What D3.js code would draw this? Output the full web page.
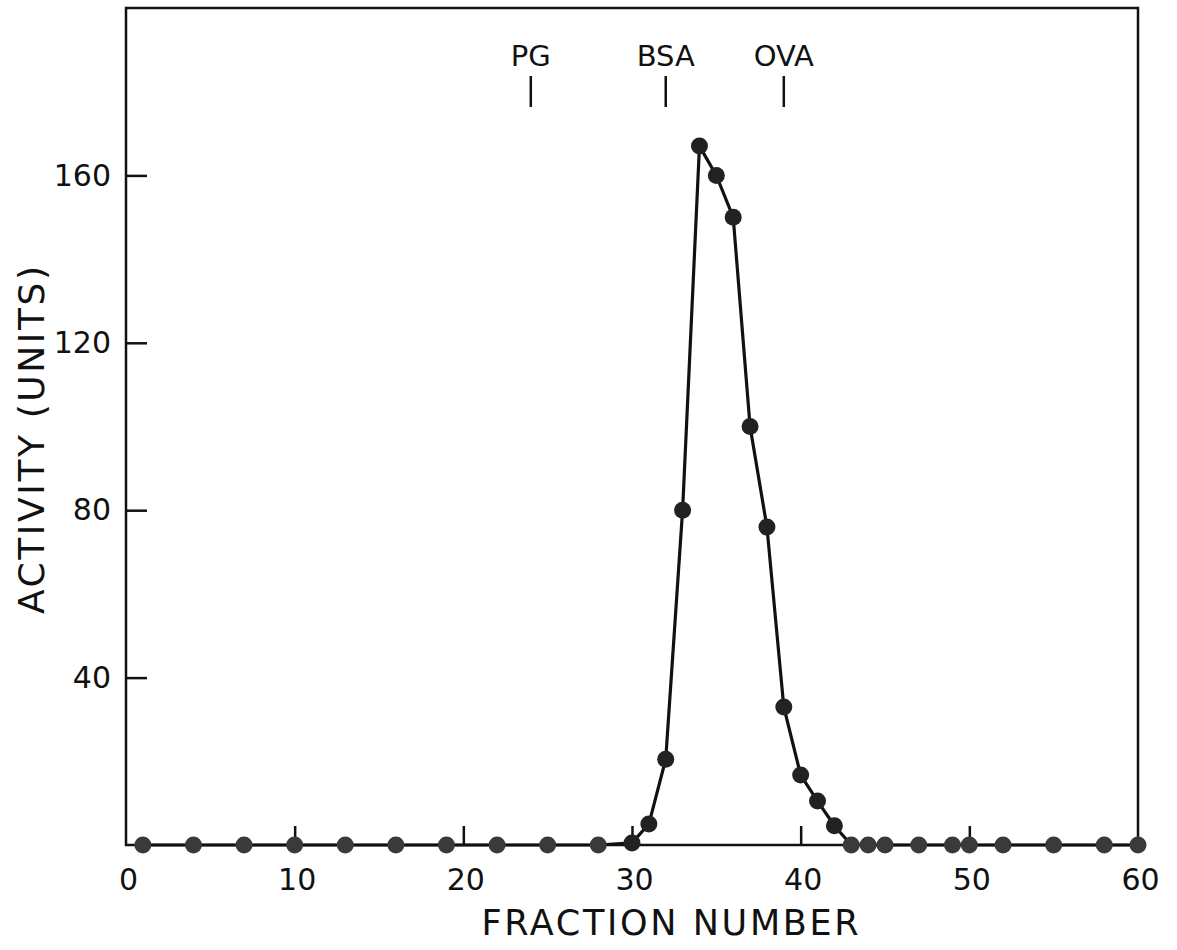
<!DOCTYPE html>
<html>
<head>
<meta charset="utf-8">
<script src="https://cdn.jsdelivr.net/npm/d3@7"></script>
<style>
  body { margin: 0; background: #fff; }
  svg text { font-family: "DejaVu Sans", sans-serif; fill: #111; }
</style>
</head>
<body>
<div id="chart"></div>
<script>
// Fraction numbers and measured activity (units)
const fractions = [1, 4, 7, 10, 13, 16, 19, 22, 25, 28, 30, 31, 32, 33, 34, 35, 36, 37, 38, 39, 40, 41, 42, 43, 44, 45, 47, 49, 50, 52, 55, 58, 60];
const activity = [0, 0, 0, 0, 0, 0, 0, 0, 0, 0, 0.5, 5, 20.5, 80, 167, 160, 150, 100, 76, 33, 16.7, 10.5, 4.6, 0, 0, 0, 0, 0, 0, 0, 0, 0, 0];

// Axis ticks
const xTickMarks = [10, 20, 30, 40, 50];
const xTickLabels = [0, 10, 20, 30, 40, 50, 60];
const yTicks = [40, 80, 120, 160];

// Marker proteins above the peak
const markerNames = ["PG", "BSA", "OVA"];
const markerFractions = [24, 32, 39];

const width = 1177, height = 950;
const margin = { top: 8, right: 40, bottom: 105, left: 126 };

const svg = d3.select("#chart")
  .append("svg")
  .attr("width", width)
  .attr("height", height);

const x = d3.scaleLinear().domain([0, 60]).range([margin.left, 1138]);
const y = d3.scaleLinear().domain([0, 200]).range([845, margin.top]);

const data = fractions.map((f, i) => ({ f: f, v: activity[i] }));

// Frame
svg.append("rect")
  .attr("x", x(0))
  .attr("y", y(200))
  .attr("width", x(60) - x(0))
  .attr("height", y(0) - y(200))
  .attr("fill", "none")
  .attr("stroke", "#111")
  .attr("stroke-width", 2.5);

// X tick marks pointing inward
const xMarks = svg.append("g")
  .attr("transform", `translate(0,${y(0)})`)
  .call(d3.axisBottom(x).tickValues(xTickMarks).tickSizeInner(-19).tickSizeOuter(0).tickFormat(""));
xMarks.select(".domain").remove();
xMarks.selectAll("line").attr("stroke", "#111").attr("stroke-width", 2.5);

// X tick labels
const xLabels = svg.append("g")
  .attr("transform", `translate(2,${y(0)})`)
  .call(d3.axisBottom(x).tickValues(xTickLabels).tickSize(0).tickPadding(45).tickFormat(d3.format("d")));
xLabels.select(".domain").remove();
xLabels.selectAll("text")
  .attr("dy", null)
  .style("font-size", "30px")
  .style("font-family", "'DejaVu Sans', sans-serif")
  .attr("fill", "#111");

// Y tick marks pointing inward
const yMarks = svg.append("g")
  .attr("transform", `translate(${x(0)},0)`)
  .call(d3.axisLeft(y).tickValues(yTicks).tickSizeInner(-21).tickSizeOuter(0).tickFormat(""));
yMarks.select(".domain").remove();
yMarks.selectAll("line").attr("stroke", "#111").attr("stroke-width", 2.5);

// Y tick labels
const yLabels = svg.append("g")
  .attr("transform", `translate(${x(0)},0)`)
  .call(d3.axisLeft(y).tickValues(yTicks).tickSize(0).tickPadding(15).tickFormat(d3.format("d")));
yLabels.select(".domain").remove();
yLabels.selectAll("text")
  .style("font-size", "30px")
  .style("font-family", "'DejaVu Sans', sans-serif")
  .attr("fill", "#111");

// Axis titles
svg.append("text")
  .attr("x", 670)
  .attr("y", 935)
  .attr("text-anchor", "middle")
  .attr("textLength", 377)
  .attr("lengthAdjust", "spacing")
  .style("font-size", "35px")
  .text("FRACTION NUMBER");

svg.append("text")
  .attr("transform", "translate(44,440) rotate(-90)")
  .attr("text-anchor", "middle")
  .attr("textLength", 348)
  .attr("lengthAdjust", "spacing")
  .style("font-size", "36px")
  .text("ACTIVITY (UNITS)");

// Marker labels and lines
const markers = svg.selectAll(".marker")
  .data(markerNames.map((n, i) => ({ name: n, f: markerFractions[i] })))
  .enter()
  .append("g")
  .attr("class", "marker");

markers.append("text")
  .attr("x", (d) => x(d.f))
  .attr("y", 66)
  .attr("text-anchor", "middle")
  .style("font-size", "29px")
  .text((d) => d.name);

markers.append("line")
  .attr("x1", (d) => x(d.f))
  .attr("x2", (d) => x(d.f))
  .attr("y1", 76)
  .attr("y2", 107)
  .attr("stroke", "#111")
  .attr("stroke-width", 2.5);

// Activity profile
const line = d3.line()
  .x((d) => x(d.f))
  .y((d) => y(d.v));

svg.append("path")
  .datum(data)
  .attr("d", line)
  .attr("fill", "none")
  .attr("stroke", "#111")
  .attr("stroke-width", 3.2);

svg.selectAll(".dot")
  .data(data)
  .enter()
  .append("circle")
  .attr("class", "dot")
  .attr("cx", (d) => x(d.f))
  .attr("cy", (d) => y(d.v))
  .attr("r", 8.5)
  .attr("fill", (d) => (d.v === 0 ? "#3a3a3a" : "#222"));
</script>
</body>
</html>
